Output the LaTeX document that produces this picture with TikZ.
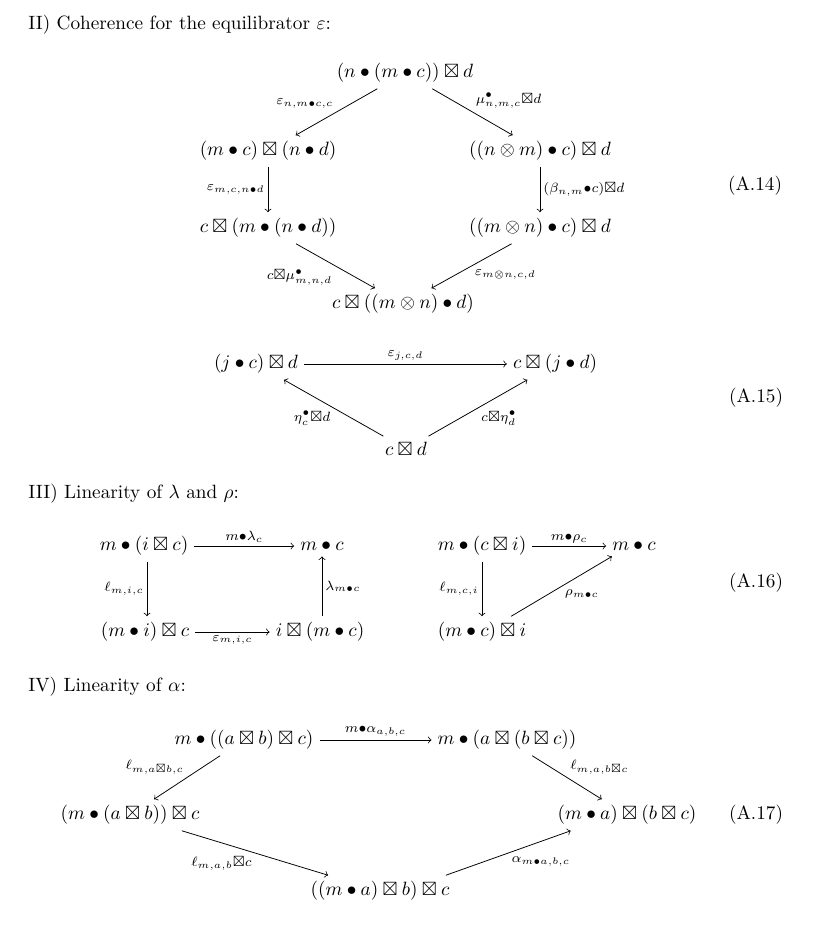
\documentclass[tikz,border=0pt]{standalone}
\usepackage{amssymb}
\begin{document}
\begin{tikzpicture}[x=0.52pt,y=-0.52pt,
  obj/.style={inner sep=3pt},
  lab/.style={inner sep=1.5pt, execute at begin node=$\scriptstyle, execute at end node=$},
  hdr/.style={anchor=west, inner sep=0pt},
  eqn/.style={inner sep=0pt},
  arr/.style={->}]
\useasboundingbox (0,0) rectangle (834,938);

% ---------- II ----------
\node[hdr] (h2) at (28,25) {II) Coherence for the equilibrator $\varepsilon$:};

\node[obj] (t)  at (405,73)  {$(n\bullet(m\bullet c))\boxtimes d$};
\node[obj] (l1) at (268,151) {$(m\bullet c)\boxtimes(n\bullet d)$};
\node[obj] (r1) at (540,151) {$((n\otimes m)\bullet c)\boxtimes d$};
\node[obj] (l2) at (268,228) {$c\boxtimes(m\bullet(n\bullet d))$};
\node[obj] (r2) at (540,228) {$((m\otimes n)\bullet c)\boxtimes d$};
\node[obj] (b)  at (403,304) {$c\boxtimes((m\otimes n)\bullet d)$};
\node[eqn] (e14) at (755,186) {(A.14)};

\draw[arr] (t) -- node[lab, above left] {\varepsilon_{n,m\bullet c,c}} (l1);
\draw[arr] (t) -- node[lab, above right] {\mu^{\bullet}_{n,m,c}\boxtimes d} (r1);
\draw[arr] (l1) -- node[lab, left] {\varepsilon_{m,c,n\bullet d}} (l2);
\draw[arr] (r1) -- node[lab, right] {(\beta_{n,m}\bullet c)\boxtimes d} (r2);
\draw[arr] (l2) -- node[lab, below left] {c\boxtimes\mu^{\bullet}_{m,n,d}} (b);
\draw[arr] (r2) -- node[lab, below right] {\varepsilon_{m\otimes n,c,d}} (b);

% ---------- A.15 ----------
\node[obj] (ja) at (256,364) {$(j\bullet c)\boxtimes d$};
\node[obj] (jb) at (555,364) {$c\boxtimes(j\bullet d)$};
\node[obj] (cd) at (406,449) {$c\boxtimes d$};
\node[eqn] (e15) at (756,398) {(A.15)};

\draw[arr] (ja) -- node[lab, above] {\varepsilon_{j,c,d}} (jb);
\draw[arr] (cd) -- node[lab, below left] {\eta^{\bullet}_{c}\boxtimes d} (ja);
\draw[arr] (cd) -- node[lab, below right] {c\boxtimes\eta^{\bullet}_{d}} (jb);

% ---------- III ----------
\node[hdr] (h3) at (28,494) {III) Linearity of $\lambda$ and $\rho$:};

\node[obj] (p1) at (144,546) {$m\bullet(i\boxtimes c)$};
\node[obj] (p2) at (322,546) {$m\bullet c$};
\node[obj] (p3) at (145,632) {$(m\bullet i)\boxtimes c$};
\node[obj] (p4) at (320,632) {$i\boxtimes(m\bullet c)$};

\draw[arr] (p1) -- node[lab, above] {m\bullet\lambda_c} (p2);
\draw[arr] (p1.south -| 147,0) -- node[lab, left] {\ell_{m,i,c}} (p3.north -| 147,0);
\draw[arr] (p3) -- node[lab, below] {\varepsilon_{m,i,c}} (p4);
\draw[arr] (p4.north -| 322,0) -- node[lab, right] {\lambda_{m\bullet c}} (p2.south -| 322,0);

\node[obj] (q1) at (482,546) {$m\bullet(c\boxtimes i)$};
\node[obj] (q2) at (634,546) {$m\bullet c$};
\node[obj] (q3) at (482,632) {$(m\bullet c)\boxtimes i$};
\node[eqn] (e16) at (756,583) {(A.16)};

\draw[arr] (q1) -- node[lab, above] {m\bullet\rho_c} (q2);
\draw[arr] (q1) -- node[lab, left] {\ell_{m,c,i}} (q3);
\draw[arr] ([xshift=-11pt]q3.north east) -- node[lab, below right] {\rho_{m\bullet c}} ([xshift=3pt]q2.south west);

% ---------- IV ----------
\node[hdr] (h4) at (28,687) {IV) Linearity of $\alpha$:};

\node[obj] (s1) at (244,740) {$m\bullet((a\boxtimes b)\boxtimes c)$};
\node[obj] (s2) at (507,740) {$m\bullet(a\boxtimes(b\boxtimes c))$};
\node[obj] (s3) at (130,815) {$(m\bullet(a\boxtimes b))\boxtimes c$};
\node[obj] (s4) at (627,815) {$(m\bullet a)\boxtimes(b\boxtimes c)$};
\node[obj] (s5) at (380,891) {$((m\bullet a)\boxtimes b)\boxtimes c$};
\node[eqn] (e17) at (756,815) {(A.17)};

\draw[arr] (s1) -- node[lab, above] {m\bullet\alpha_{a,b,c}} (s2);
\draw[arr] (s1) -- node[lab, above left] {\ell_{m,a\boxtimes b,c}} (s3);
\draw[arr] (s2) -- node[lab, above right] {\ell_{m,a,b\boxtimes c}} (s4);
\draw[arr] (s3) -- node[lab, below left] {\ell_{m,a,b}\boxtimes c} (s5);
\draw[arr] ([xshift=-5pt]s5.north east) -- node[lab, below right] {\alpha_{m\bullet a,b,c}} ([xshift=10pt]s4.south west);
\end{tikzpicture}
\end{document}
